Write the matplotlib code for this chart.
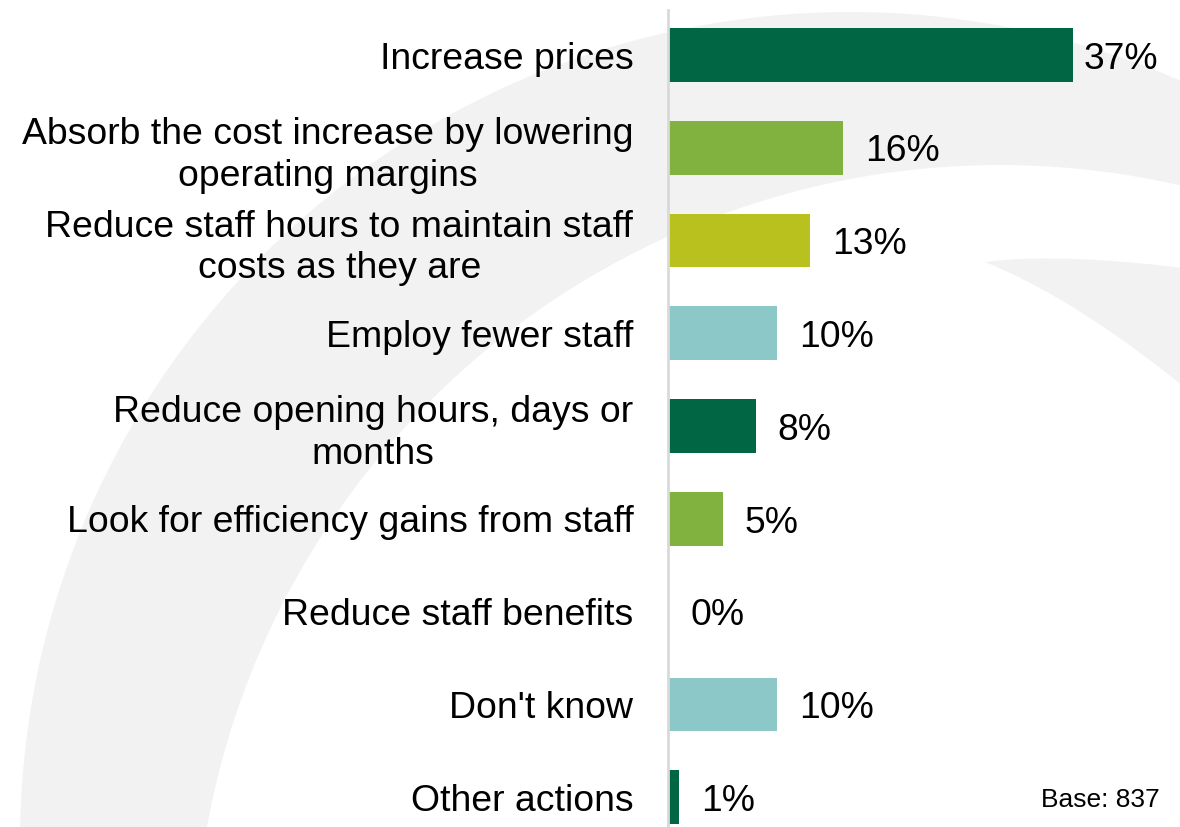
import matplotlib.pyplot as plt
from matplotlib.patches import Circle, PathPatch
from matplotlib.path import Path

plt.rcParams['font.family'] = ['Liberation Sans', 'DejaVu Sans']

acciones = [
    "Increase prices",
    "Absorb the cost increase by lowering\noperating margins",
    "Reduce staff hours to maintain staff\ncosts as they are",
    "Employ fewer staff",
    "Reduce opening hours, days or\nmonths",
    "Look for efficiency gains from staff",
    "Reduce staff benefits",
    "Don't know",
    "Other actions",
]
porcentajes = [37, 16, 13, 10, 8, 5, 0, 10, 1]
colores_ciclo = ["#006644", "#81B23F", "#B8C11D", "#8CC8C8"]
base = 837

fig = plt.figure(figsize=(11.8, 8.27), dpi=100)

# fondo decorativo (arcos grises), en coordenadas de pixel
fondo = fig.add_axes([0, 0, 1, 1], zorder=0)
fondo.set_xlim(0, 1180)
fondo.set_ylim(827, 0)
fondo.axis("off")
gris = "#F2F2F2"
fondo.add_patch(Circle((850, 842), 830, color=gris, lw=0))
fondo.add_patch(Circle((1000, 971), 806, color="white", lw=0))
verts = [(985, 262), (1060, 252), (1200, 270),
         (1200, 400), (1080, 300), (985, 262)]
codes = [Path.MOVETO, Path.CURVE3, Path.CURVE3,
         Path.LINETO, Path.CURVE3, Path.CURVE3]
fondo.add_patch(PathPatch(Path(verts, codes), color=gris, lw=0))

ax = fig.add_axes([668 / 1180, 0, 512 / 1180, 817 / 827], zorder=1)
ax.patch.set_alpha(0)

y = list(range(len(acciones)))
colores = [colores_ciclo[i % 4] for i in y]
barras = ax.barh(y, porcentajes, height=0.58, color=colores)

for b, v in zip(barras, porcentajes):
    off = 8 if v > 30 else 16
    ax.annotate(f"{v}%", (b.get_width(), b.get_y() + b.get_height() / 2),
                xytext=(off, -3), textcoords="offset points",
                ha="left", va="center", fontsize=26.8)

ax.set_xlim(0, 46.8)
ax.set_ylim(8.32, -0.485)
ax.set_yticks(y)
ax.set_yticklabels(acciones, fontsize=26.9, multialignment="center",
                   linespacing=1.25)
ax.tick_params(axis="y", length=0, pad=25)
ax.set_xticks([])
for s in ["top", "right", "bottom"]:
    ax.spines[s].set_visible(False)
ax.spines["left"].set_color("#D9D9D9")
ax.spines["left"].set_linewidth(2)

fig.text(1160 / 1180, 1 - 800 / 827, f"Base: {base}", ha="right",
         va="center", fontsize=19)

plt.savefig("out.png", dpi=100)
